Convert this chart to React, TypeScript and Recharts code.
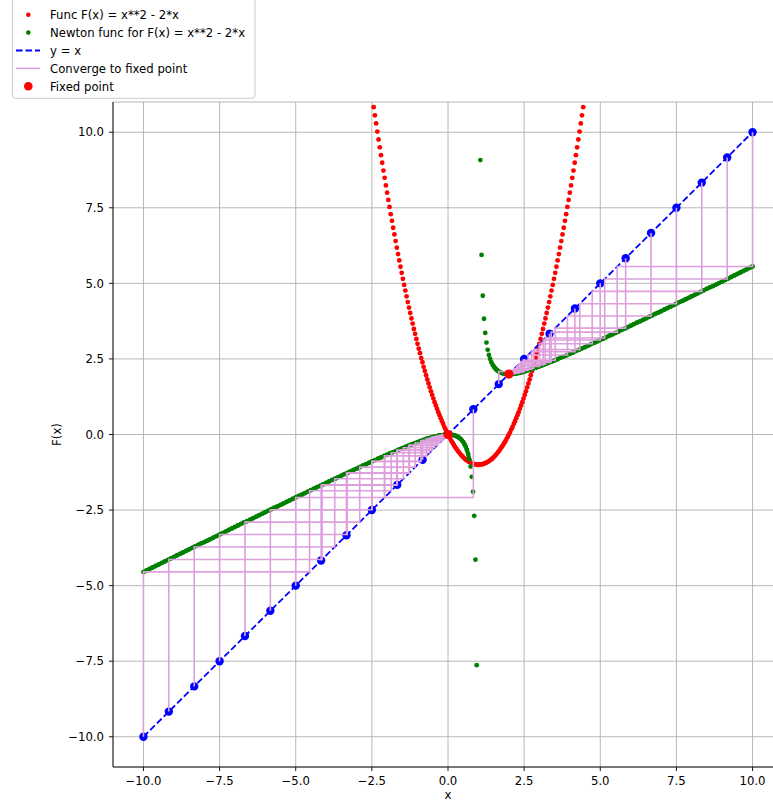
import React from 'react';
import { ComposedChart, Scatter, XAxis, YAxis, CartesianGrid, Label } from 'recharts';

// F(x) = x**2 - 2*x, points read along the visible part of the parabola
const funcPoints: [number, number][] = [
  [-2.44, 10.83], [-2.40, 10.56], [-2.36, 10.29], [-2.32, 10.02], [-2.28, 9.76], [-2.24, 9.50], [-2.20, 9.24], [-2.16, 8.99],
  [-2.12, 8.73], [-2.08, 8.49], [-2.04, 8.24], [-2.00, 8.00], [-1.96, 7.76], [-1.92, 7.53], [-1.88, 7.29], [-1.84, 7.07],
  [-1.80, 6.84], [-1.76, 6.62], [-1.72, 6.40], [-1.68, 6.18], [-1.64, 5.97], [-1.60, 5.76], [-1.56, 5.55], [-1.52, 5.35],
  [-1.48, 5.15], [-1.44, 4.95], [-1.40, 4.76], [-1.36, 4.57], [-1.32, 4.38], [-1.28, 4.20], [-1.24, 4.02], [-1.20, 3.84],
  [-1.16, 3.67], [-1.12, 3.49], [-1.08, 3.33], [-1.04, 3.16], [-1.00, 3.00], [-0.96, 2.84], [-0.92, 2.69], [-0.88, 2.53],
  [-0.84, 2.39], [-0.80, 2.24], [-0.76, 2.10], [-0.72, 1.96], [-0.68, 1.82], [-0.64, 1.69], [-0.60, 1.56], [-0.56, 1.43],
  [-0.52, 1.31], [-0.48, 1.19], [-0.44, 1.07], [-0.40, 0.96], [-0.36, 0.85], [-0.32, 0.74], [-0.28, 0.64], [-0.24, 0.54],
  [-0.20, 0.44], [-0.16, 0.35], [-0.12, 0.25], [-0.08, 0.17], [-0.04, 0.08], [0.00, 0.00], [0.04, -0.08], [0.08, -0.15],
  [0.12, -0.23], [0.16, -0.29], [0.20, -0.36], [0.24, -0.42], [0.28, -0.48], [0.32, -0.54], [0.36, -0.59], [0.40, -0.64],
  [0.44, -0.69], [0.48, -0.73], [0.52, -0.77], [0.56, -0.81], [0.60, -0.84], [0.64, -0.87], [0.68, -0.90], [0.72, -0.92],
  [0.76, -0.94], [0.80, -0.96], [0.84, -0.97], [0.88, -0.99], [0.92, -0.99], [0.96, -1.00], [1.00, -1.00], [1.04, -1.00],
  [1.08, -0.99], [1.12, -0.99], [1.16, -0.97], [1.20, -0.96], [1.24, -0.94], [1.28, -0.92], [1.32, -0.90], [1.36, -0.87],
  [1.40, -0.84], [1.44, -0.81], [1.48, -0.77], [1.52, -0.73], [1.56, -0.69], [1.60, -0.64], [1.64, -0.59], [1.68, -0.54],
  [1.72, -0.48], [1.76, -0.42], [1.80, -0.36], [1.84, -0.29], [1.88, -0.23], [1.92, -0.15], [1.96, -0.08], [2.00, 0.00],
  [2.04, 0.08], [2.08, 0.17], [2.12, 0.25], [2.16, 0.35], [2.20, 0.44], [2.24, 0.54], [2.28, 0.64], [2.32, 0.74],
  [2.36, 0.85], [2.40, 0.96], [2.44, 1.07], [2.48, 1.19], [2.52, 1.31], [2.56, 1.43], [2.60, 1.56], [2.64, 1.69],
  [2.68, 1.82], [2.72, 1.96], [2.76, 2.10], [2.80, 2.24], [2.84, 2.39], [2.88, 2.53], [2.92, 2.69], [2.96, 2.84],
  [3.00, 3.00], [3.04, 3.16], [3.08, 3.33], [3.12, 3.49], [3.16, 3.67], [3.20, 3.84], [3.24, 4.02], [3.28, 4.20],
  [3.32, 4.38], [3.36, 4.57], [3.40, 4.76], [3.44, 4.95], [3.48, 5.15], [3.52, 5.35], [3.56, 5.55], [3.60, 5.76],
  [3.64, 5.97], [3.68, 6.18], [3.72, 6.40], [3.76, 6.62], [3.80, 6.84], [3.84, 7.07], [3.88, 7.29], [3.92, 7.53],
  [3.96, 7.76], [4.00, 8.00], [4.04, 8.24], [4.08, 8.49], [4.12, 8.73], [4.16, 8.99], [4.20, 9.24], [4.24, 9.50],
  [4.28, 9.76], [4.32, 10.02], [4.36, 10.29], [4.40, 10.56], [4.44, 10.83],
];

// Newton function for F(x): points
const newtonPoints: [number, number][] = [
  [-10.0, -4.55], [-9.9, -4.50], [-9.8, -4.45], [-9.7, -4.40], [-9.6, -4.35], [-9.5, -4.30], [-9.4, -4.25], [-9.3, -4.20],
  [-9.2, -4.15], [-9.1, -4.10], [-9.0, -4.05], [-8.9, -4.00], [-8.8, -3.95], [-8.7, -3.90], [-8.6, -3.85], [-8.5, -3.80],
  [-8.4, -3.75], [-8.3, -3.70], [-8.2, -3.65], [-8.1, -3.60], [-8.0, -3.56], [-7.9, -3.51], [-7.8, -3.46], [-7.7, -3.41],
  [-7.6, -3.36], [-7.5, -3.31], [-7.4, -3.26], [-7.3, -3.21], [-7.2, -3.16], [-7.1, -3.11], [-7.0, -3.06], [-6.9, -3.01],
  [-6.8, -2.96], [-6.7, -2.91], [-6.6, -2.87], [-6.5, -2.82], [-6.4, -2.77], [-6.3, -2.72], [-6.2, -2.67], [-6.1, -2.62],
  [-6.0, -2.57], [-5.9, -2.52], [-5.8, -2.47], [-5.7, -2.42], [-5.6, -2.38], [-5.5, -2.33], [-5.4, -2.28], [-5.3, -2.23],
  [-5.2, -2.18], [-5.1, -2.13], [-5.0, -2.08], [-4.9, -2.03], [-4.8, -1.99], [-4.7, -1.94], [-4.6, -1.89], [-4.5, -1.84],
  [-4.4, -1.79], [-4.3, -1.74], [-4.2, -1.70], [-4.1, -1.65], [-4.0, -1.60], [-3.9, -1.55], [-3.8, -1.50], [-3.7, -1.46],
  [-3.6, -1.41], [-3.5, -1.36], [-3.4, -1.31], [-3.3, -1.27], [-3.2, -1.22], [-3.1, -1.17], [-3.0, -1.13], [-2.9, -1.08],
  [-2.8, -1.03], [-2.7, -0.99], [-2.6, -0.94], [-2.5, -0.89], [-2.4, -0.85], [-2.3, -0.80], [-2.2, -0.76], [-2.1, -0.71],
  [-2.0, -0.67], [-1.9, -0.62], [-1.8, -0.58], [-1.7, -0.54], [-1.6, -0.49], [-1.5, -0.45], [-1.4, -0.41], [-1.3, -0.37],
  [-1.2, -0.33], [-1.1, -0.29], [-1.0, -0.25], [-0.9, -0.21], [-0.8, -0.18], [-0.7, -0.14], [-0.6, -0.11], [-0.5, -0.08],
  [-0.4, -0.06], [-0.3, -0.03], [-0.2, -0.02], [-0.1, 0.00],
  [0.02, 0.00], [0.06, 0.00], [0.10, -0.01], [0.14, -0.01], [0.18, -0.02], [0.22, -0.03], [0.26, -0.05], [0.30, -0.06],
  [0.34, -0.09], [0.38, -0.12], [0.42, -0.15], [0.46, -0.20], [0.50, -0.25], [0.54, -0.32], [0.58, -0.40], [0.62, -0.51],
  [0.66, -0.64], [0.70, -0.82], [0.741, -1.06], [0.782, -1.40], [0.822, -1.89], [0.862, -2.69], [0.902, -4.14], [0.942, -7.63],
  [1.062, 9.08], [1.102, 5.94], [1.142, 4.59], [1.182, 3.83], [1.222, 3.36], [1.263, 3.04], [1.303, 2.80], [1.343, 2.63],
  [1.383, 2.50], [1.423, 2.39], [1.463, 2.31], [1.503, 2.25],
  [1.54, 2.20], [1.58, 2.15], [1.62, 2.12], [1.66, 2.09], [1.70, 2.06], [1.74, 2.05], [1.78, 2.03], [1.82, 2.02],
  [1.86, 2.01], [1.90, 2.01], [1.94, 2.00], [1.98, 2.00], [2.02, 2.00], [2.06, 2.00], [2.10, 2.00], [2.14, 2.01],
  [2.18, 2.01], [2.22, 2.02], [2.26, 2.03], [2.30, 2.03], [2.34, 2.04], [2.38, 2.05], [2.42, 2.06], [2.46, 2.07],
  [2.50, 2.08],
  [2.6, 2.11], [2.7, 2.14], [2.8, 2.18], [2.9, 2.21], [3.0, 2.25], [3.1, 2.29], [3.2, 2.33], [3.3, 2.37],
  [3.4, 2.41], [3.5, 2.45], [3.6, 2.49], [3.7, 2.54], [3.8, 2.58], [3.9, 2.62], [4.0, 2.67], [4.1, 2.71],
  [4.2, 2.76], [4.3, 2.80], [4.4, 2.85], [4.5, 2.89], [4.6, 2.94], [4.7, 2.99], [4.8, 3.03], [4.9, 3.08],
  [5.0, 3.13], [5.1, 3.17], [5.2, 3.22], [5.3, 3.27], [5.4, 3.31], [5.5, 3.36], [5.6, 3.41], [5.7, 3.46],
  [5.8, 3.50], [5.9, 3.55], [6.0, 3.60], [6.1, 3.65], [6.2, 3.70], [6.3, 3.74], [6.4, 3.79], [6.5, 3.84],
  [6.6, 3.89], [6.7, 3.94], [6.8, 3.99], [6.9, 4.03], [7.0, 4.08], [7.1, 4.13], [7.2, 4.18], [7.3, 4.23],
  [7.4, 4.28], [7.5, 4.33], [7.6, 4.38], [7.7, 4.42], [7.8, 4.47], [7.9, 4.52], [8.0, 4.57], [8.1, 4.62],
  [8.2, 4.67], [8.3, 4.72], [8.4, 4.77], [8.5, 4.82], [8.6, 4.87], [8.7, 4.91], [8.8, 4.96], [8.9, 5.01],
  [9.0, 5.06], [9.1, 5.11], [9.2, 5.16], [9.3, 5.21], [9.4, 5.26], [9.5, 5.31], [9.6, 5.36], [9.7, 5.41],
  [9.8, 5.46], [9.9, 5.51], [10.0, 5.56],
];

// x-ranges where the green dots overlap into a continuous band
const newtonDenseRanges: [number, number][] = [[-10, 0.7], [1.54, 10]];

// y = x reference line end points
const diagonalEnds = [-10, 10];

// Orbits of the Newton map (successive iterates), one per starting point
const orbits: number[][] = [
  [-10, -4.546, -1.863, -0.606, -0.114, -0.006, 0],
  [-9.167, -4.133, -1.664, -0.52, -0.089, -0.004, 0],
  [-8.333, -3.72, -1.466, -0.436, -0.066, -0.002, 0],
  [-7.5, -3.309, -1.27, -0.355, -0.047, -0.001, 0],
  [-6.667, -2.899, -1.078, -0.28, -0.031, 0],
  [-5.833, -2.49, -0.888, -0.209, -0.018, 0],
  [-5, -2.083, -0.704, -0.145, -0.009, 0],
  [-4.167, -1.68, -0.527, -0.091, -0.004, 0],
  [-3.333, -1.282, -0.36, -0.048, -0.001, 0],
  [-2.5, -0.893, -0.211, -0.018, 0],
  [-1.667, -0.521, -0.089, -0.004, 0],
  [-0.833, -0.189, -0.015, 0],
  [0],
  [0.833, -2.083, -0.704, -0.145, -0.009, 0],
  [1.667, 2.083, 2.003, 2.0],
  [2.5, 2.083, 2.003, 2.0],
  [3.333, 2.381, 2.053, 2.001, 2.0],
  [4.167, 2.741, 2.158, 2.011, 2.0],
  [5, 3.125, 2.298, 2.034, 2.001, 2.0],
  [5.833, 3.52, 2.458, 2.072, 2.002, 2.0],
  [6.667, 3.922, 2.632, 2.122, 2.007, 2.0],
  [7.5, 4.327, 2.814, 2.183, 2.014, 2.0],
  [8.333, 4.735, 3.001, 2.251, 2.025, 2.0],
  [9.167, 5.145, 3.193, 2.325, 2.04, 2.001, 2.0],
  [10, 5.556, 3.388, 2.403, 2.058, 2.002, 2.0],
];

const fixedPoints = [0, 2];
const axisTicks = [-10, -7.5, -5, -2.5, 0, 2.5, 5, 7.5, 10];

const legendItems = [
  'Func F(x) = x**2 - 2*x',
  'Newton func for F(x) = x**2 - 2*x',
  'y = x',
  'Converge to fixed point',
  'Fixed point',
];

const RED = '#ff0000';
const GREEN = '#008000';
const BLUE = '#0000ff';
const PLUM = '#dda0dd';
const FONT = 'DejaVu Sans, Verdana, sans-serif';

const toXY = (pts: [number, number][]) => pts.map(([x, y]) => ({ x, y }));
const funcData = toXY(funcPoints);
const newtonData = toXY(newtonPoints);
const newtonBands = newtonDenseRanges.map(([a, b]) => newtonData.filter((p) => p.x >= a && p.x <= b));
const diagonalData = diagonalEnds.map((v) => ({ x: v, y: v }));
const startData = orbits.map((o) => ({ x: o[0], y: o[0] }));
const cobwebData = orbits
  .filter((o) => o.length > 1)
  .map((o) => {
    const pts = [{ x: o[0], y: o[0] }];
    for (let i = 1; i < o.length; i++) {
      pts.push({ x: o[i - 1], y: o[i] });
      pts.push({ x: o[i], y: o[i] });
    }
    return pts;
  });
const fixedData = fixedPoints.map((v) => ({ x: v, y: v }));

const fmt = (v: number) => (v < 0 ? '\u2212' : '') + Math.abs(v).toFixed(1);

const dot = (r: number, fill: string) => (props: any) =>
  props.cx == null ? <g /> : <circle cx={props.cx} cy={props.cy} r={r} fill={fill} />;
const noShape = () => <g />;

const tickStyle = { fill: '#000', fontSize: 11.7, fontFamily: FONT };

function LegendBox() {
  const rowY = [14.7, 32.6, 50.5, 68.4, 86.3];
  return (
    <svg width={260} height={100} style={{ position: 'absolute', left: 0, top: 0 }}>
      <rect x={12.5} y={-6} width={242.5} height={104.3} rx={3} ry={3} fill="rgba(255,255,255,0.8)" stroke="#cccccc" strokeWidth={1} />
      <circle cx={28.3} cy={rowY[0]} r={2.3} fill={RED} />
      <circle cx={28.3} cy={rowY[1]} r={2.3} fill={GREEN} />
      <line x1={16} y1={rowY[2]} x2={40} y2={rowY[2]} stroke={BLUE} strokeWidth={1.8} strokeDasharray="6.6 2.9" />
      <line x1={16} y1={rowY[3]} x2={40} y2={rowY[3]} stroke={PLUM} strokeWidth={1.6} />
      <circle cx={28.3} cy={rowY[4]} r={4.3} fill={RED} />
      {legendItems.map((t, i) => (
        <text key={t} x={50} y={rowY[i] + 4.3} fontSize={11.7} fontFamily={FONT} fill="#000">
          {t}
        </text>
      ))}
    </svg>
  );
}

export default function App() {
  return (
    <div style={{ position: 'absolute', left: 0, top: 0, width: 773, height: 802, overflow: 'hidden', background: '#fff' }}>
      <ComposedChart width={790} height={802} margin={{ top: 102, right: 7, bottom: 0, left: 53 }}>
        <CartesianGrid stroke="#b0b0b0" strokeWidth={0.9} />
        <XAxis
          dataKey="x"
          type="number"
          domain={[-11, 11]}
          allowDataOverflow
          ticks={axisTicks}
          interval={0}
          tickFormatter={fmt}
          height={35}
          tickSize={4}
          tickMargin={6}
          stroke="#000"
          axisLine={{ stroke: '#000', strokeWidth: 0.9 }}
          tickLine={{ stroke: '#000', strokeWidth: 0.9 }}
          tick={tickStyle}
        >
          <Label
            content={(p: any) => {
              const vb = p.viewBox || { x: 113, y: 767, width: 670, height: 35 };
              return (
                <text x={vb.x + vb.width / 2} y={vb.y + 32} textAnchor="middle" fontSize={11.7} fontFamily={FONT} fill="#000">
                  x
                </text>
              );
            }}
          />
        </XAxis>
        <XAxis
          xAxisId="top"
          orientation="top"
          type="number"
          domain={[-11, 11]}
          allowDataOverflow
          height={0}
          tick={false}
          tickLine={false}
          axisLine={{ stroke: '#000', strokeWidth: 0.9 }}
        >
          <Label
            content={(p: any) => {
              const vb = p.viewBox || { x: 113, y: 102, width: 670, height: 0 };
              return (
                <text x={vb.x + vb.width / 2} y={vb.y - 7} textAnchor="middle" fontSize={14} fontFamily={FONT} fill="#000">
                  Orbits of F(x)
                </text>
              );
            }}
          />
        </XAxis>
        <YAxis
          dataKey="y"
          type="number"
          domain={[-11, 11]}
          allowDataOverflow
          ticks={axisTicks}
          interval={0}
          tickFormatter={fmt}
          width={60}
          tickSize={4}
          tickMargin={5}
          stroke="#000"
          axisLine={{ stroke: '#000', strokeWidth: 0.9 }}
          tickLine={{ stroke: '#000', strokeWidth: 0.9 }}
          tick={tickStyle}
        >
          <Label
            content={(p: any) => {
              const vb = p.viewBox || { x: 53, y: 102, width: 60, height: 665 };
              const cx = vb.x + 7.5;
              const cy = vb.y + vb.height / 2;
              return (
                <text x={cx} y={cy} textAnchor="middle" fontSize={11.7} fontFamily={FONT} fill="#000" transform={`rotate(-90, ${cx}, ${cy})`}>
                  F(x)
                </text>
              );
            }}
          />
        </YAxis>

        <Scatter name={legendItems[0]} data={funcData} fill={RED} shape={dot(2.4, RED)} isAnimationActive={false} />
        {newtonBands.map((band, i) => (
          <Scatter
            key={`band-${i}`}
            data={band}
            fill={GREEN}
            line={{ stroke: GREEN, strokeWidth: 4, strokeLinecap: 'round', strokeLinejoin: 'round' }}
            lineType="joint"
            shape={noShape}
            isAnimationActive={false}
          />
        ))}
        <Scatter name={legendItems[1]} data={newtonData} fill={GREEN} shape={dot(2.4, GREEN)} isAnimationActive={false} />
        <Scatter
          name={legendItems[2]}
          data={diagonalData}
          fill={BLUE}
          line={{ stroke: BLUE, strokeWidth: 1.8, strokeDasharray: '6.6 2.9' }}
          lineType="joint"
          shape={noShape}
          isAnimationActive={false}
        />
        <Scatter data={startData} fill={BLUE} shape={dot(4.2, BLUE)} isAnimationActive={false} />
        {cobwebData.map((pts, i) => (
          <Scatter
            key={`cob-${i}`}
            data={pts}
            fill={PLUM}
            line={{ stroke: PLUM, strokeWidth: 1.6 }}
            lineType="joint"
            shape={noShape}
            isAnimationActive={false}
          />
        ))}
        <Scatter name={legendItems[4]} data={fixedData} fill={RED} shape={dot(4.6, RED)} isAnimationActive={false} />
      </ComposedChart>
      <LegendBox />
    </div>
  );
}
